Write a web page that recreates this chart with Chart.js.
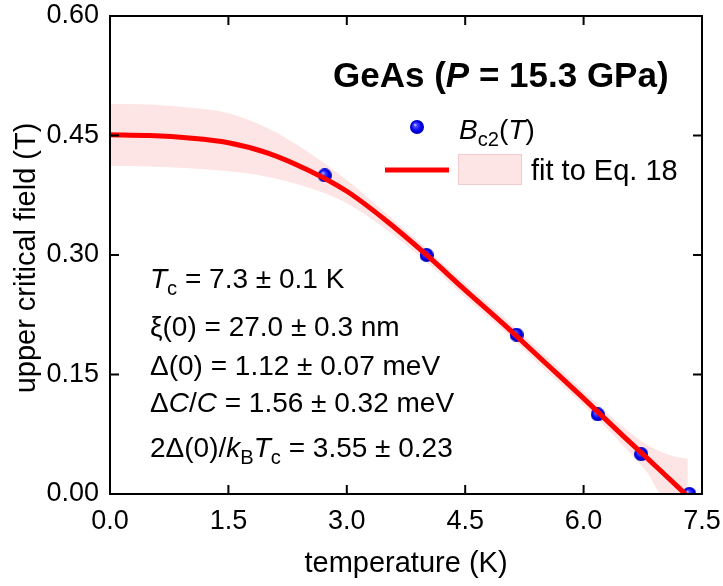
<!DOCTYPE html>
<html>
<head>
<meta charset="utf-8">
<script src="https://cdn.jsdelivr.net/npm/chart.js@4.4.0/dist/chart.umd.min.js"></script>
<style>
  body { margin: 0; background: #fff; }
  canvas { display: block; }
</style>
</head>
<body>
<canvas id="myChart" width="723" height="586"></canvas>
<script>
// measured Bc2(T) points
const bcTemps = [2.72, 4.01, 5.15, 6.18, 6.73, 7.34]
const bcFields = [0.40, 0.30, 0.20, 0.10, 0.05, 0.00]

// fit curve
const fitTemps = [0, 0.5, 1.0, 1.5, 2.0, 2.5, 3.0, 3.5, 4.0, 4.5, 5.0, 5.5, 6.0, 6.5, 7.0, 7.29]
const fitFields = [0.451, 0.450, 0.447, 0.441, 0.428, 0.407, 0.380, 0.343, 0.301, 0.256, 0.212, 0.166, 0.120, 0.073, 0.027, 0.0]

// confidence band edges
const bandTemps = [0, 0.5, 1.0, 1.5, 2.0, 2.5, 3.0, 3.5, 4.0, 4.5, 5.0, 5.5, 6.0, 6.5, 6.8, 7.0, 7.15, 7.32]
const bandUpper = [0.490, 0.489, 0.485, 0.478, 0.459, 0.430, 0.394, 0.352, 0.309, 0.264, 0.221, 0.175, 0.129, 0.084, 0.062, 0.052, 0.047, 0.044]
const bandLower = [0.412, 0.411, 0.409, 0.405, 0.398, 0.385, 0.365, 0.332, 0.292, 0.247, 0.204, 0.157, 0.111, 0.061, 0.028, 0.0, 0.0, 0.0]

const xTicks = [0, 1.5, 3.0, 4.5, 6.0, 7.5]
const yTicks = [0, 0.15, 0.30, 0.45, 0.60]

const FONT = '"Liberation Sans", Arial, sans-serif'
const PINK = '#fde5e5'

function toPoints(xs, ys) {
  return xs.map((x, i) => ({ x: x, y: ys[i] }))
}

// little shaded blue ball used as the point marker
function makeBall(r) {
  let c = document.createElement('canvas')
  c.width = 2 * r
  c.height = 2 * r
  let g = c.getContext('2d')
  let grad = g.createRadialGradient(r * 0.7, r * 0.65, 0, r, r, r)
  grad.addColorStop(0, '#d8d8ff')
  grad.addColorStop(0.25, '#4a4aff')
  grad.addColorStop(0.7, '#0000f0')
  grad.addColorStop(1, '#0000b0')
  g.fillStyle = grad
  g.beginPath()
  g.arc(r, r, r, 0, Math.PI * 2)
  g.fill()
  return c
}

const ball = makeBall(7)

function drawRich(ctx, x, y, segs, size) {
  segs.forEach(s => {
    let fs = s.sub ? size * 0.72 : size
    ctx.font = `${s.it ? 'italic ' : ''}${s.b ? 'bold ' : ''}${fs}px ${FONT}`
    let dy = s.sub ? size * 0.24 : 0
    ctx.fillText(s.t, x, y + dy)
    x += ctx.measureText(s.t).width
  })
}

// keep the plot box where the reference has it, ignore label overflow
function noOverflow(axis) {
  axis.paddingTop = 0
  axis.paddingBottom = 0
  axis.paddingLeft = 0
  axis.paddingRight = 0
}

const decorations = {
  id: 'decorations',
  afterDraw(chart) {
    let ctx = chart.ctx
    let area = chart.chartArea
    let xs = chart.scales.x
    let ys = chart.scales.y
    ctx.save()

    // frame
    ctx.strokeStyle = '#000'
    ctx.lineWidth = 2
    ctx.strokeRect(area.left, area.top, area.right - area.left, area.bottom - area.top)

    // inward ticks on all four sides
    let tl = 9
    ctx.beginPath()
    xTicks.forEach(v => {
      let px = xs.getPixelForValue(v)
      ctx.moveTo(px, area.bottom)
      ctx.lineTo(px, area.bottom - tl)
      ctx.moveTo(px, area.top)
      ctx.lineTo(px, area.top + tl)
    })
    yTicks.forEach(v => {
      let py = ys.getPixelForValue(v)
      ctx.moveTo(area.left, py)
      ctx.lineTo(area.left + tl, py)
      ctx.moveTo(area.right, py)
      ctx.lineTo(area.right - tl, py)
    })
    ctx.stroke()

    ctx.fillStyle = '#000'
    ctx.textBaseline = 'alphabetic'

    // axis titles
    ctx.font = `29px ${FONT}`
    ctx.textAlign = 'center'
    ctx.fillText('temperature (K)', (area.left + area.right) / 2, 572)
    ctx.save()
    ctx.translate(35, 258)
    ctx.rotate(-Math.PI / 2)
    ctx.fillText('upper critical field (T)', 0, 0)
    ctx.restore()
    ctx.textAlign = 'left'

    // title
    drawRich(ctx, 333, 87, [
      { t: 'GeAs (', b: true },
      { t: 'P', b: true, it: true },
      { t: ' = 15.3 GPa)', b: true }
    ], 35)

    // legend
    ctx.drawImage(ball, 417 - 7, 127 - 7)
    drawRich(ctx, 459, 139, [
      { t: 'B', it: true }, { t: 'c2', sub: true }, { t: '(' }, { t: 'T', it: true }, { t: ')' }
    ], 28)
    ctx.strokeStyle = '#ff0000'
    ctx.lineWidth = 5
    ctx.beginPath()
    ctx.moveTo(385, 170)
    ctx.lineTo(449, 170)
    ctx.stroke()
    ctx.fillStyle = PINK
    ctx.fillRect(458, 154, 64, 31)
    ctx.strokeStyle = '#f2cccc'
    ctx.lineWidth = 1
    ctx.strokeRect(458.5, 154.5, 63, 30)
    ctx.fillStyle = '#000'
    drawRich(ctx, 531, 180, [{ t: 'fit to Eq. 18' }], 29)

    // fit parameters
    let lines = [
      [{ t: 'T', it: true }, { t: 'c', sub: true }, { t: ' = 7.3 ± 0.1 K' }],
      [{ t: 'ξ(0) = 27.0 ± 0.3 nm' }],
      [{ t: 'Δ(0) = 1.12 ± 0.07 meV' }],
      [{ t: 'Δ' }, { t: 'C', it: true }, { t: '/' }, { t: 'C', it: true }, { t: ' = 1.56 ± 0.32 meV' }],
      [{ t: '2Δ(0)/' }, { t: 'k', it: true }, { t: 'B', sub: true }, { t: 'T', it: true }, { t: 'c', sub: true }, { t: ' = 3.55 ± 0.23' }]
    ]
    let baselines = [288, 336, 375, 412, 457]
    lines.forEach((segs, i) => drawRich(ctx, 150, baselines[i], segs, 28))

    ctx.restore()
  }
}

let ctx = document.getElementById('myChart').getContext('2d')
let chart = new Chart(ctx, {
  type: 'scatter',
  data: {
    datasets: [
      {
        label: 'fit',
        data: toPoints(fitTemps, fitFields),
        showLine: true,
        borderColor: '#ff0000',
        borderWidth: 5,
        pointRadius: 0,
        cubicInterpolationMode: 'monotone',
        fill: false
      },
      {
        label: 'Bc2(T)',
        data: toPoints(bcTemps, bcFields),
        pointStyle: ball,
        pointRadius: 7,
        showLine: false
      },
      {
        label: 'band upper',
        data: toPoints(bandTemps, bandUpper),
        showLine: true,
        borderColor: 'transparent',
        borderWidth: 0,
        pointRadius: 0,
        cubicInterpolationMode: 'monotone',
        fill: false
      },
      {
        label: 'band lower',
        data: toPoints(bandTemps, bandLower),
        showLine: true,
        borderColor: 'transparent',
        borderWidth: 0,
        pointRadius: 0,
        cubicInterpolationMode: 'monotone',
        backgroundColor: PINK,
        fill: '-1'
      }
    ]
  },
  options: {
    responsive: false,
    animation: false,
    layout: { padding: { top: 16, right: 21, left: 0, bottom: 0 } },
    plugins: {
      legend: { display: false },
      tooltip: { enabled: false }
    },
    scales: {
      x: {
        type: 'linear',
        min: 0,
        max: 7.5,
        afterBuildTicks: axis => { axis.ticks = xTicks.map(v => ({ value: v })) },
        afterFit: axis => { axis.height = 92; noOverflow(axis) },
        grid: { display: false, drawTicks: false },
        border: { display: false },
        ticks: {
          padding: 11,
          color: '#000',
          font: { family: FONT, size: 27 },
          maxRotation: 0,
          callback: v => v.toFixed(1)
        }
      },
      y: {
        type: 'linear',
        min: 0,
        max: 0.6,
        afterBuildTicks: axis => { axis.ticks = yTicks.map(v => ({ value: v })) },
        afterFit: axis => { axis.width = 110; noOverflow(axis) },
        grid: { display: false, drawTicks: false },
        border: { display: false },
        ticks: {
          padding: 11,
          color: '#000',
          font: { family: FONT, size: 27 },
          callback: v => v.toFixed(2)
        }
      }
    }
  },
  plugins: [decorations]
})
</script>
</body>
</html>
